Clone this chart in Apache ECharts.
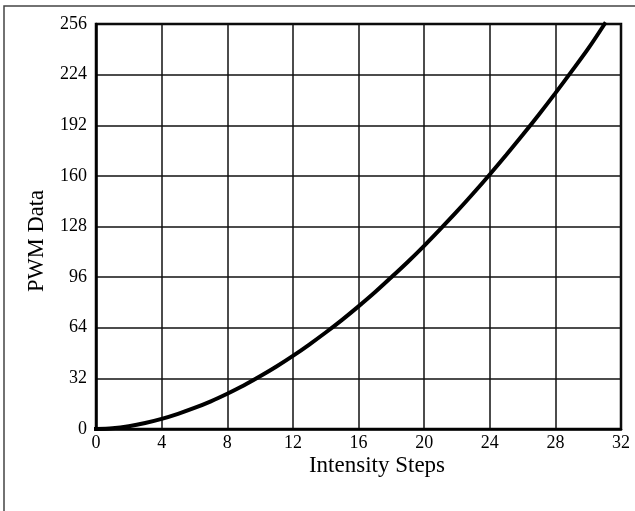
<!DOCTYPE html>
<html>
<head>
<meta charset="utf-8">
<script src="https://cdn.jsdelivr.net/npm/echarts@6/dist/echarts.min.js"></script>
<style>
html,body{margin:0;padding:0;background:#fff;}
#chart{width:635px;height:511px;}
</style>
</head>
<body>
<div id="chart"></div>
<script>
var steps = [0,1,2,3,4,5,6,7,8,9,10,11,12,13,14,15,16,17,18,19,20,21,22,23,24,25,26,27,28,29,30,31];
var pwm = [0,0.5,1.8,3.8,6.4,9.6,13.3,17.5,22.3,27.5,33.3,39.5,46.2,53.4,61,69,77.5,86.4,95.9,105.6,115.8,126.5,137.5,149,160.9,173.2,185.8,198.8,212.3,226.2,240.4,256];
var xTicks = [0,4,8,12,16,20,24,28,32];
var yTicks = [0,32,64,96,128,160,192,224,256];
var xTitle = 'Intensity Steps';
var yTitle = 'PWM Data';

var font = '"Liberation Serif", "Times New Roman", serif';
var chart = echarts.init(document.getElementById('chart'), null, {renderer:'canvas'});
chart.setOption({
  animation:false,
  backgroundColor:'#fff',
  grid:{left:96, top:24, width:525, height:405, show:true, borderColor:'#000', borderWidth:2.5, backgroundColor:'transparent'},
  xAxis:{
    type:'value', min:xTicks[0], max:xTicks[xTicks.length-1], interval:4,
    axisLine:{show:true, onZero:false, lineStyle:{color:'#000', width:2.5}},
    axisTick:{show:false},
    axisLabel:{color:'#000', fontFamily:font, fontSize:18, margin:5},
    splitLine:{show:true, lineStyle:{color:'#111', width:1.5}}
  },
  yAxis:{
    type:'value', min:yTicks[0], max:yTicks[yTicks.length-1], interval:32,
    axisLine:{show:true, lineStyle:{color:'#000', width:2.5}},
    axisTick:{show:false},
    axisLabel:{color:'#000', fontFamily:font, fontSize:18, margin:9},
    splitLine:{show:true, lineStyle:{color:'#111', width:1.5}}
  },
  series:[{
    type:'line',
    data:steps.map(function(s,i){return [s,pwm[i]];}),
    showSymbol:false, smooth:0.3,
    lineStyle:{color:'#000', width:4, cap:'square'},
    clip:false
  }],
  graphic:[
    {type:'rect', shape:{x:4, y:6, width:700, height:600}, style:{fill:'none', stroke:'#444', lineWidth:1.5}, silent:true},
    {type:'text', x:377, y:466, style:{text:xTitle, font:'23px '+font, fill:'#000', align:'center', verticalAlign:'middle'}},
    {type:'text', x:37, y:241, rotation:Math.PI/2, style:{text:yTitle, font:'22.5px '+font, fill:'#000', align:'center', verticalAlign:'middle'}}
  ]
});
</script>
</body>
</html>
